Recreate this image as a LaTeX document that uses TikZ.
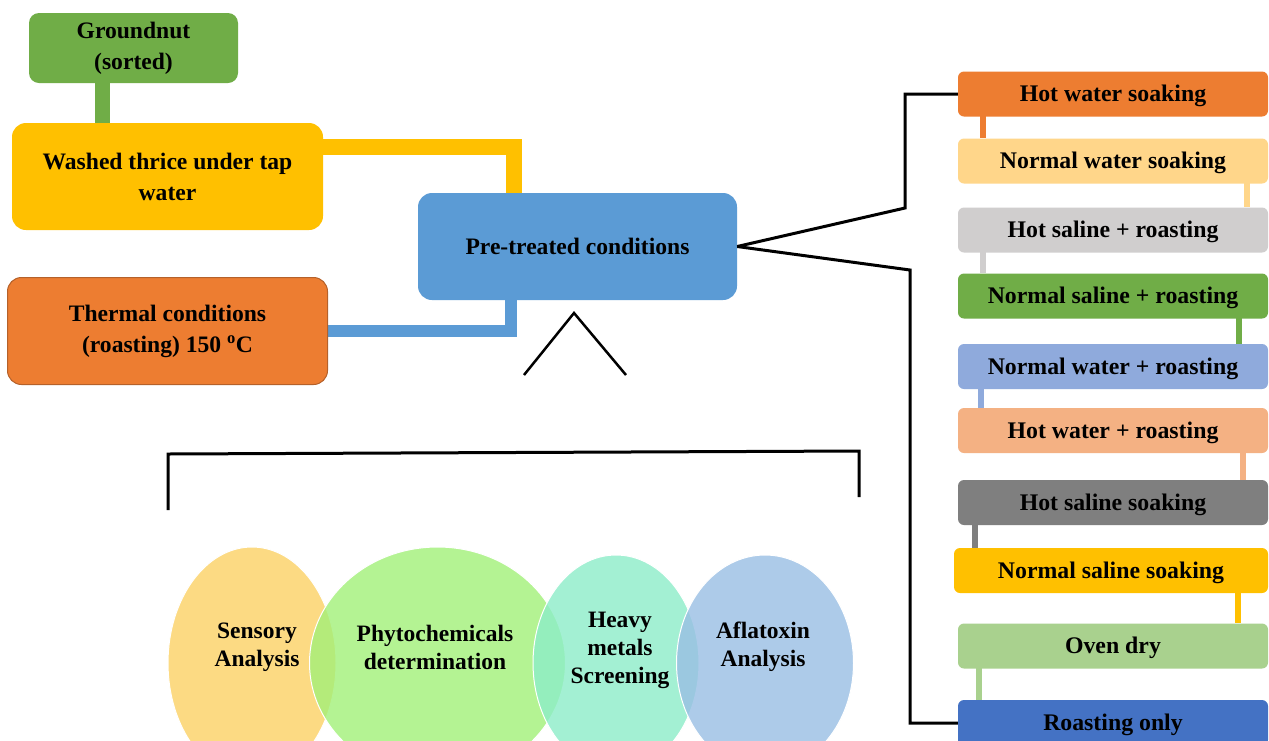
\documentclass[tikz,border=0pt]{standalone}
\usepackage{fontspec}
\setmainfont{Liberation Serif}
\usetikzlibrary{shapes.geometric,calc}
\pgfdeclarelayer{back}
\pgfdeclarelayer{bg}
\pgfsetlayers{back,bg,main}
\definecolor{cgn}{HTML}{70AD47}
\definecolor{cwash}{HTML}{FFC000}
\definecolor{ctherm}{HTML}{ED7D31}
\definecolor{cthermb}{HTML}{B5612A}
\definecolor{cpre}{HTML}{5B9BD5}
\definecolor{rA}{HTML}{ED7D31}
\definecolor{rB}{HTML}{FFD68A}
\definecolor{rC}{HTML}{D0CECE}
\definecolor{rD}{HTML}{70AD47}
\definecolor{rE}{HTML}{8FAADC}
\definecolor{rF}{HTML}{F4B183}
\definecolor{rG}{HTML}{7F7F7F}
\definecolor{rH}{HTML}{FFC000}
\definecolor{rI}{HTML}{A9D18E}
\definecolor{rJ}{HTML}{4472C4}
\definecolor{eA}{HTML}{FCD165}
\definecolor{eB}{HTML}{A2F078}
\definecolor{eC}{HTML}{8DEDC8}
\definecolor{eD}{HTML}{99BFE4}
\newcommand\linkbar[5]{%
  \path ([xshift=#3pt]#1.south #2) coordinate (tmpk);
  \begin{pgfonlayer}{bg}
  \draw[line width=6pt,draw=#5] ([yshift=3pt]tmpk) -- (tmpk |- #4.north);
  \end{pgfonlayer}}
\begin{document}
\begin{tikzpicture}[x=1pt,y=-1pt,
  bigbox/.style={rounded corners=14pt, inner sep=0pt, align=center,
    font=\bfseries\fontsize{23.6}{31}\selectfont},
  rbox/.style={rounded corners=6pt, inner sep=0pt, minimum width=310pt,
    minimum height=45pt, text depth=1pt, font=\bfseries\fontsize{23.8}{28}\selectfont},
  ell/.style={ellipse, inner sep=0pt, fill opacity=0.8, draw=white, line width=1pt},
  etext/.style={align=center, inner sep=0pt, font=\bfseries\fontsize{23.5}{28}\selectfont},
  blk/.style={line width=3pt, draw=black},
]
\useasboundingbox (0,0) rectangle (1269,740);
\begin{pgfonlayer}{back}
\fill[white] (0,0) rectangle (1269,740);
\end{pgfonlayer}

% left boxes
\node[bigbox, fill=cgn, minimum width=209pt, minimum height=70pt, rounded corners=10pt] (gn) at (133.5,48) {Groundnut\\(sorted)};
\node[bigbox, fill=cwash, minimum width=311pt, minimum height=107pt] (wash) at (167.5,176.5) {Washed thrice under tap\\water};
\node[bigbox, fill=ctherm, draw=cthermb, line width=1pt, minimum width=320pt, minimum height=107pt] (therm) at (167.5,331) {Thermal conditions\\(roasting) 150 \textsuperscript{o}C};
\node[bigbox, fill=cpre, minimum width=319pt, minimum height=107pt] (pre) at (577.5,246.5) {Pre-treated conditions};

% thick connectors
\path ([xshift=74pt]gn.south west) coordinate (g1);
\path ([yshift=-24.5pt]wash.north east) coordinate (y1);
\path ([xshift=96.5pt]pre.north west) coordinate (y2);
\path ([xshift=93pt]pre.south west) coordinate (b1);
\begin{pgfonlayer}{bg}
\draw[line width=15pt, draw=cgn] ([yshift=5pt]g1) -- ([yshift=-5pt]g1 |- wash.north);
\draw[line width=16pt, draw=cwash] ([xshift=-20pt]y1) -- (y1 -| y2) -- ([yshift=-6pt]y2);
\draw[line width=12pt, draw=cpre] ([yshift=6pt]b1) -- (b1 |- therm.east) -- ([xshift=-10pt]therm.east);
\end{pgfonlayer}

% right column
\node[rbox, fill=rA] (r1) at (1113,94) {Hot water soaking};
\node[rbox, fill=rB] (r2) at (1113,161) {Normal water soaking};
\node[rbox, fill=rC] (r3) at (1113,230) {Hot saline + roasting};
\node[rbox, fill=rD] (r4) at (1113,296) {Normal saline + roasting};
\node[rbox, fill=rE] (r5) at (1113,366.5) {Normal water + roasting};
\node[rbox, fill=rF] (r6) at (1113,430.5) {Hot water + roasting};
\node[rbox, fill=rG] (r7) at (1113,502.5) {Hot saline soaking};
\node[rbox, fill=rH, minimum width=314pt] (r8) at (1111,570.5) {Normal saline soaking};
\node[rbox, fill=rI] (r9) at (1113,646) {Oven dry};
\node[rbox, fill=rJ, minimum height=46pt] (r10) at (1113,723) {Roasting only};

\linkbar{r1}{west}{25}{r2}{rA}
\linkbar{r2}{east}{-21}{r3}{rB}
\linkbar{r3}{west}{25}{r4}{rC}
\linkbar{r4}{east}{-29}{r5}{rD}
\linkbar{r5}{west}{23}{r6}{rE}
\linkbar{r6}{east}{-25}{r7}{rF}
\linkbar{r7}{west}{17}{r8}{rG}
\linkbar{r8}{east}{-30}{r9}{rH}
\linkbar{r9}{west}{21}{r10}{rI}

% black connectors
\draw[blk] (pre.east) -- (905,208) |- (r1.west);
\draw[blk] (pre.east) -- (910,270) |- (r10.west);

% caret and bracket
\draw[line width=2.5pt] (524,375) -- (574,313) -- (626,375);
\draw[line width=3pt] (168,510) -- (168,454) -- (859,451) -- (859,497);

% ellipses
\node[ell, fill=eA, minimum width=168pt, minimum height=232pt] (e1) at (252,663) {};
\node[ell, fill=eB, minimum width=256pt, minimum height=232pt] (e2) at (437.5,663) {};
\node[ell, fill=eC, minimum width=166pt, minimum height=216pt] (e3) at (616,663) {};
\node[ell, fill=eD, minimum width=177pt, minimum height=216pt] (e4) at (765,663) {};
\node[etext] (t1) at (257,647) {Sensory\\Analysis};
\node[etext] (t2) at (435,647) {Phytochemicals\\determination};
\node[etext] (t3) at (620,650) {Heavy\\metals\\Screening};
\node[etext] (t4) at (763,647) {Aflatoxin\\Analysis};
\end{tikzpicture}
\end{document}
